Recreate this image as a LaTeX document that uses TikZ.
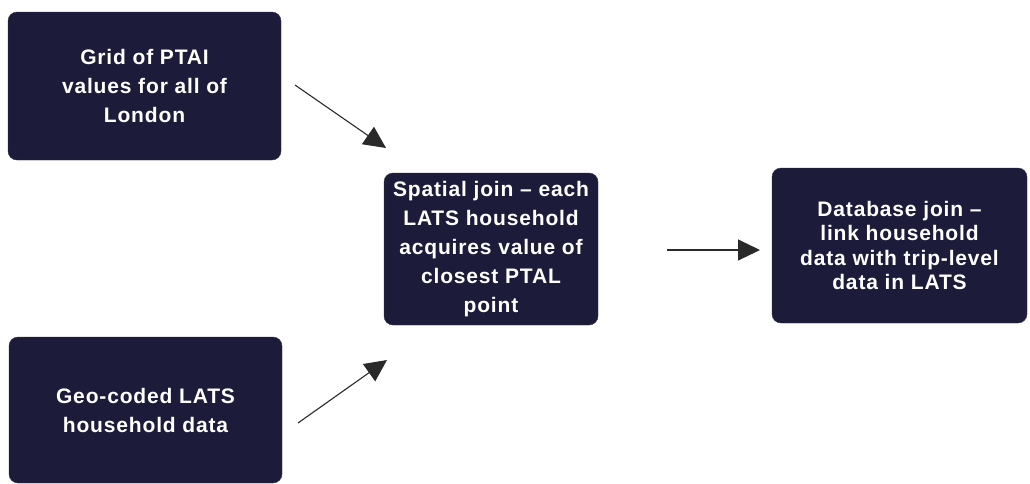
\documentclass[tikz,border=0pt]{standalone}
\usepackage{fontspec}
\setmainfont{Liberation Sans}[LetterSpace=4]
\usetikzlibrary{arrows.meta}
\definecolor{boxnavy}{HTML}{1C1C3A}
\definecolor{arrowgray}{HTML}{2A2A2A}
\tikzset{
  procbox/.style={fill=boxnavy, draw=boxnavy!80!gray, rounded corners=9pt, text=white,
    align=center, font=\fontsize{21}{29}\selectfont\bfseries, inner sep=0pt},
  flowarrow/.style={draw=arrowgray, line width=1.1pt, -{Triangle[length=22pt,width=21pt]}}
}
\begin{document}
\begin{tikzpicture}[x=1pt,y=-1pt]
\useasboundingbox (0,0) rectangle (1030,483);
\fill[white] (0,0) rectangle (1030,483);
\node[procbox, minimum width=273pt, minimum height=148pt] (grid) at (144.5,86)
  {Grid of PTAI\\values for all of\\London};
\node[procbox, minimum width=273pt, minimum height=146pt] (geo) at (145.5,410)
  {Geo-coded LATS\\household data};
\node[procbox, minimum width=214pt, minimum height=152pt] (spatial) at (491,249)
  {Spatial join -- each\\LATS household\\acquires value of\\closest PTAL\\point};
\node[procbox, minimum width=255pt, minimum height=155pt, font=\fontsize{21}{24.5}\selectfont\bfseries] (dbjoin) at (899.5,245.5)
  {Database join --\\link household\\data with trip-level\\data in LATS};
\coordinate (a1s) at (295,85);
\coordinate (a1e) at (386,148);
\coordinate (a2s) at (298,423);
\coordinate (a2e) at (387,360);
\coordinate (a3s) at (667,250);
\coordinate (a3e) at (760,250);
\draw[flowarrow] (a1s) -- (a1e);
\draw[flowarrow] (a2s) -- (a2e);
\draw[flowarrow] (a3s) -- (a3e);
\end{tikzpicture}
\end{document}
